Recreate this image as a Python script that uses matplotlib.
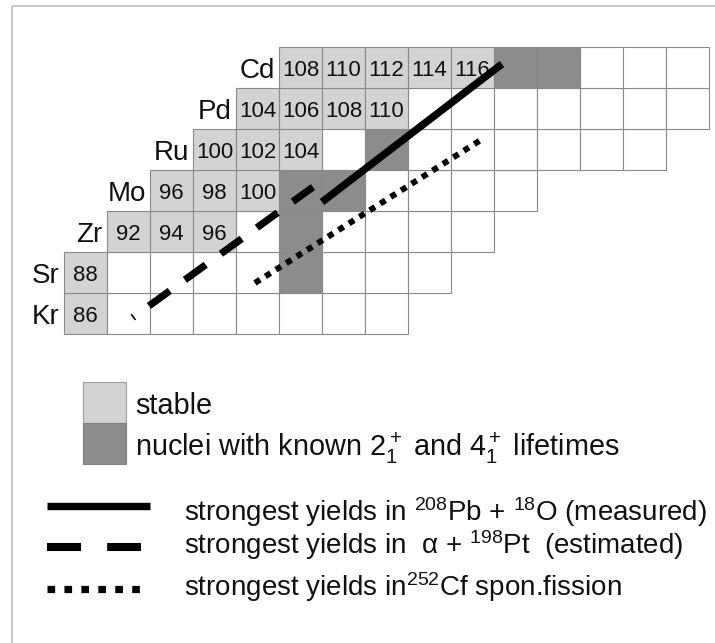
import matplotlib
matplotlib.use("Agg")
import matplotlib.pyplot as plt
from matplotlib.patches import Rectangle

plt.rcParams['font.family'] = ['Liberation Sans', 'DejaVu Sans']
plt.rcParams['mathtext.fontset'] = 'custom'
plt.rcParams['mathtext.rm'] = 'Liberation Sans'
plt.rcParams['mathtext.it'] = 'Liberation Sans:italic'
plt.rcParams['mathtext.default'] = 'regular'
plt.rcParams['lines.scale_dashes'] = False

# chart data (proton number Z, range of even neutron numbers N per row)
elements = ['Kr', 'Sr', 'Zr', 'Mo', 'Ru', 'Pd', 'Cd']
Z = [36, 38, 40, 42, 44, 46, 48]
first_N = [50, 50, 52, 54, 56, 58, 60]
last_N = [64, 66, 68, 70, 76, 78, 78]

# stable isotopes (mass numbers) and nuclei with known 2+ / 4+ lifetimes
stable_A = {
    'Kr': [86], 'Sr': [88], 'Zr': [92, 94, 96], 'Mo': [96, 98, 100],
    'Ru': [100, 102, 104], 'Pd': [104, 106, 108, 110],
    'Cd': [108, 110, 112, 114, 116],
}
known_A = {'Sr': [98], 'Zr': [100], 'Mo': [102, 104], 'Ru': [108], 'Cd': [118, 120]}

# strongest-yield bands, endpoints in (N, Z)
yield_measured_N = [61.0, 69.37]
yield_measured_Z = [41.44, 48.17]
yield_alpha_N = [52.95, 60.58]
yield_alpha_Z = [36.37, 42.17]
yield_cf_N = [57.88, 68.53]
yield_cf_Z = [37.49, 44.56]
stray_N = [52.15, 52.30]
stray_Z = [35.93, 35.72]

c_stable = '#d3d3d3'
c_known = '#8c8c8c'
c_edge = '#8a8a8a'

fig = plt.figure(figsize=(7.15, 6.43), dpi=100)
fig.patch.set_facecolor('white')

# grid axes in N, Z units (one cell = 2 units)
ax = fig.add_axes([0, 0, 1, 1])
ax.set_xlim(46.023, 79.279)
ax.set_ylim(19.927, 51.293)
ax.axis('off')

for el, z, n0, n1 in zip(elements, Z, first_N, last_N):
    for n in range(n0, n1 + 1, 2):
        a = n + z
        if a in stable_A.get(el, []):
            fc, zo = c_stable, 2
        elif a in known_A.get(el, []):
            fc, zo = c_known, 2
        else:
            fc, zo = 'white', 1
        ax.add_patch(Rectangle((n - 1, z - 1), 2, 2, facecolor=fc,
                               edgecolor=c_edge, lw=0.8, zorder=zo))
        if a in stable_A.get(el, []):
            ax.text(n, z, str(a), ha='center', va='center_baseline',
                    fontsize=16, color='#111111', zorder=3)
    ax.text(n0 - 1.2, z, el, ha='right', va='center_baseline',
            fontsize=20, color='#111111', zorder=3)

ax.plot(yield_measured_N, yield_measured_Z, color='black', lw=5.4,
        solid_capstyle='butt', zorder=5)
ax.plot(yield_alpha_N, yield_alpha_Z, color='black', lw=5.2,
        dash_capstyle='butt', linestyle=(0, (18.5, 13.5)), zorder=5)
ax.plot(yield_cf_N, yield_cf_Z, color='black', lw=4.3,
        dash_capstyle='butt', linestyle=(0, (4.4, 4.5)), zorder=5)
ax.plot(stray_N, stray_Z, color='black', lw=1.2, zorder=5)

# legend / frame axes in pixel units
lg = fig.add_axes([0, 0, 1, 1])
lg.set_xlim(0, 715)
lg.set_ylim(643, 0)
lg.axis('off')

lg.add_patch(Rectangle((12, 6), 720, 660, facecolor='none',
                       edgecolor='#b8b8b8', lw=1.1))

lg.add_patch(Rectangle((83, 382), 43, 41, facecolor=c_stable, edgecolor='#a0a0a0', lw=0.8))
lg.add_patch(Rectangle((83, 423), 43, 41, facecolor=c_known, edgecolor='#808080', lw=0.8))
lg.text(135, 414, 'stable', fontsize=20.8, va='baseline', color='#111111')
lg.text(135, 456, r'nuclei with known 2$_1^+$ and 4$_1^+$ lifetimes',
        fontsize=20.8, va='baseline', color='#111111')

lg.plot([47, 150], [506, 506], color='black', lw=5.3, solid_capstyle='butt')
lg.plot([47, 141], [547, 547], color='black', lw=5.8, dash_capstyle='butt',
        linestyle=(0, (24.5, 18.8)))
lg.plot([47, 141], [588.5, 588.5], color='black', lw=5.2, dash_capstyle='butt',
        linestyle=(0, (5.5, 6.7)))

lg.text(184, 521, r'strongest yields in $^{208}$Pb + $^{18}$O (measured)',
        fontsize=20.0, va='baseline', color='#111111')
lg.text(184, 554, r'strongest yields in  $\alpha$ + $^{198}$Pt  (estimated)',
        fontsize=20.0, va='baseline', color='#111111')
lg.text(184, 596, r'strongest yields in$^{252}$Cf spon.fission',
        fontsize=20.0, va='baseline', color='#111111')

fig.savefig('out.png', dpi=100)
